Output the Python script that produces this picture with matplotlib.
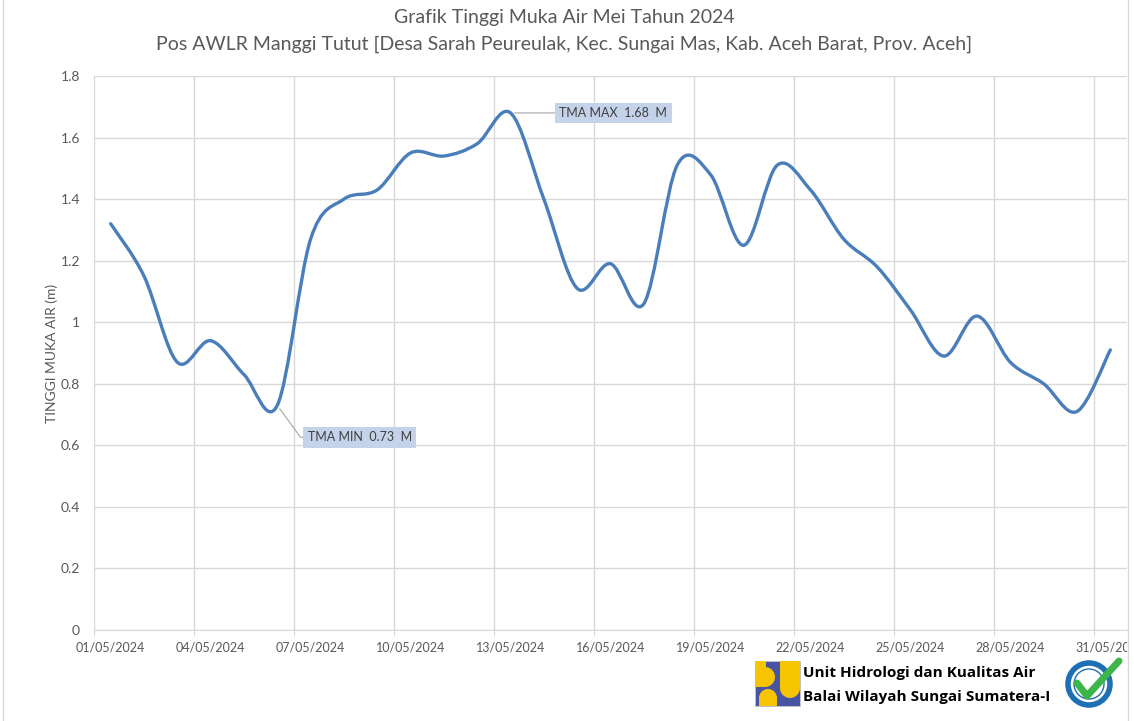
import numpy as np
import matplotlib.pyplot as plt
import matplotlib.dates as mdates
from matplotlib.path import Path
from matplotlib.patches import PathPatch, Rectangle, Circle
from matplotlib.transforms import Bbox, TransformedBbox
from matplotlib.ticker import FuncFormatter, MultipleLocator
from datetime import datetime

# data harian TMA Mei 2024
tanggal = [datetime(2024, 5, d, 12) for d in range(1, 32)]
tma = [1.32, 1.15, 0.87, 0.94, 0.83, 0.73, 1.27, 1.40, 1.43, 1.55,
       1.54, 1.58, 1.68, 1.40, 1.11, 1.19, 1.06, 1.51, 1.48, 1.25,
       1.51, 1.43, 1.27, 1.18, 1.04, 0.89, 1.02, 0.87, 0.80, 0.71, 0.91]
tick_dates = [datetime(2024, 5, d) for d in range(1, 32, 3)]
label_dates = [datetime(2024, 5, d, 12) for d in range(1, 32, 3)]
judul = ["Grafik Tinggi Muka Air Mei Tahun 2024",
         "Pos AWLR Manggi Tutut [Desa Sarah Peureulak, Kec. Sungai Mas, Kab. Aceh Barat, Prov. Aceh]"]
idx_min, idx_max = 5, 12

W, H = 1134, 721
GRAY = "#595959"


def smooth_path(x, y):
    # garis halus ala Excel (bezier melalui titik data)
    pts = np.column_stack([x, y])
    verts = [pts[0]]
    codes = [Path.MOVETO]
    n = len(pts)
    for i in range(n - 1):
        p0 = pts[i - 1] if i > 0 else pts[i]
        p1, p2 = pts[i], pts[i + 1]
        p3 = pts[i + 2] if i + 2 < n else p2
        verts += [p1 + (p2 - p0) / 6, p2 - (p3 - p1) / 6, p2]
        codes += [Path.CURVE4] * 3
    return Path(verts, codes)


plt.rcParams['font.family'] = ['Lato', 'DejaVu Sans']
fig = plt.figure(figsize=(W / 100, H / 100), dpi=100)
fig.patch.set_facecolor('white')

ax = fig.add_axes([94 / W, 1 - 630 / H, (1127 - 94) / W, (630 - 76) / H])
xnum = mdates.date2num(tanggal)
ax.add_patch(PathPatch(smooth_path(xnum, tma), fill=False, edgecolor='#4a7ebb',
                       lw=2.4, capstyle='round', joinstyle='round', zorder=3))

ax.set_xlim(datetime(2024, 5, 1), datetime(2024, 6, 1))
ax.set_ylim(0, 1.8)
ax.yaxis.set_major_locator(MultipleLocator(0.2))
ax.yaxis.set_major_formatter(FuncFormatter(lambda v, p: f"{v:g}"))
# garis grid di awal hari, label di tengah hari
ax.set_xticks(tick_dates)
ax.set_xticklabels([])
ax.set_xticks(label_dates, minor=True)
ax.xaxis.set_minor_formatter(mdates.DateFormatter('%d/%m/%Y'))
ax.grid(True, which='major', color='#d9d9d9', lw=1)
ax.set_axisbelow(True)
for s in ['top', 'right', 'left']:
    ax.spines[s].set_visible(False)
ax.spines['bottom'].set_color('#d9d9d9')
ax.tick_params(axis='y', length=0, pad=10, labelsize=10, labelcolor=GRAY)
ax.tick_params(axis='x', which='major', length=4, color='#d9d9d9')
ax.tick_params(axis='x', which='minor', length=0, pad=8, labelsize=9, labelcolor=GRAY)
ax.set_ylabel("TINGGI MUKA AIR (m)", fontsize=10, color=GRAY)
ax.yaxis.set_label_coords(-0.035, 0.5)

# label terakhir terpotong di tepi bingkai seperti aslinya
clip = TransformedBbox(Bbox([[0, 0], [1127 / W, 1]]), fig.transFigure)
for lab in ax.xaxis.get_minorticklabels():
    lab.set_clip_on(True)
    lab.set_clip_box(clip)

box = dict(boxstyle='square,pad=0.35', fc='#c5d3ea', ec='none')
ax.annotate(f"TMA MIN  {tma[idx_min]:.2f}  M", xy=(xnum[idx_min], tma[idx_min]),
            xytext=(59.5, -23), textcoords='offset points', ha='center', va='center',
            fontsize=9, color='#404040', bbox=box,
            arrowprops=dict(arrowstyle='-', color='#a6a6a6', lw=0.8, shrinkA=0, shrinkB=3,
                            relpos=(0, 0.5),
                            connectionstyle='angle,angleA=0,angleB=-54,rad=0'))
ax.annotate(f"TMA MAX  {tma[idx_max]:.2f}  M", xy=(xnum[idx_max], tma[idx_max]),
            xytext=(74, 0), textcoords='offset points', ha='center', va='center',
            fontsize=9, color='#404040', bbox=box,
            arrowprops=dict(arrowstyle='-', color='#a6a6a6', lw=0.8, shrinkA=0, shrinkB=3,
                            relpos=(0, 0.5)))

fig.text(564 / W, 1 - 17 / H, judul[0], ha='center', va='center', fontsize=14, color=GRAY)
fig.text(564 / W, 1 - 44 / H, judul[1], ha='center', va='center', fontsize=14, color=GRAY)

# panel logo & border (koordinat piksel)
deco = fig.add_axes([0, 0, 1, 1], zorder=-1)
deco.set_xlim(0, W)
deco.set_ylim(H, 0)
deco.axis('off')
deco.plot([3, 3], [0, H], color='#d9d9d9', lw=1)
deco.plot([1128, 1128], [0, H], color='#d9d9d9', lw=1)

blue, yellow = '#4654a3', '#f6c400'
kotak = Rectangle((755, 661), 45, 45, fc=blue, ec='#c8c8c8', lw=0.6)
deco.add_patch(kotak)
bentuk = [Rectangle((755, 661), 11, 9),
          Rectangle((755, 667), 10, 20), Circle((765, 677), 10),
          Rectangle((759, 698), 18, 8), Circle((768, 698), 9),
          Rectangle((780, 661), 20, 27), Circle((790, 688), 10)]
for p in bentuk:
    p.set_facecolor(yellow)
    p.set_edgecolor('none')
    deco.add_patch(p)
    p.set_clip_path(kotak)

deco.text(803, 673, "Unit Hidrologi dan Kualitas Air", ha='left', va='center',
          fontsize=11, fontweight='bold', family='Open Sans', color='black')
deco.text(803, 697, "Balai Wilayah Sungai Sumatera-I", ha='left', va='center',
          fontsize=11, fontweight='bold', family='Open Sans', color='black')

deco.add_patch(Circle((1089, 684), 21, fc='white', ec='#1f6fb5', lw=4))
deco.add_patch(Circle((1089, 684), 15, fc='white', ec='#1f6fb5', lw=1))
deco.plot([1077, 1087, 1119], [683, 696, 661], color='#3cb54a', lw=5,
          solid_capstyle='round', solid_joinstyle='round')

fig.savefig('out.png', dpi=100, facecolor='white')
